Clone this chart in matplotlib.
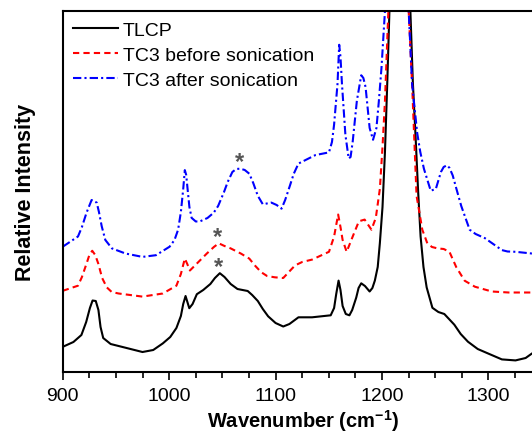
import matplotlib
matplotlib.use("Agg")
import matplotlib.pyplot as plt
from matplotlib.ticker import MultipleLocator, NullLocator

plt.rcParams['font.family'] = ['Liberation Sans', 'DejaVu Sans']
plt.rcParams['mathtext.fontset'] = 'custom'
plt.rcParams['mathtext.rm'] = 'Liberation Sans:bold'
plt.rcParams['mathtext.bf'] = 'Liberation Sans:bold'

# Raman spectra, wavenumber (cm-1) vs relative intensity (arb. units)
tlcp_x = [900, 910, 917.5, 922, 925.5, 928, 931, 933.5, 935.5, 938, 945, 960,
          974.9, 985, 994, 1001, 1006.8,
          1011, 1013.2, 1015.4, 1018.9, 1022, 1026, 1032, 1038.7, 1043, 1047.6,
          1052, 1057.8, 1064.2, 1069, 1073.8, 1078,
          1083.3, 1088, 1093, 1100, 1107.2, 1113, 1121.5, 1134.3, 1151.8, 1155,
          1157, 1159.2, 1161, 1163, 1166, 1169.4, 1172, 1175.8, 1178, 1180.5,
          1184, 1188.4, 1191, 1193.3, 1196, 1198, 1200.5, 1202.8, 1205, 1207, 1216,
          1226.7, 1229, 1231.5, 1234, 1236.3, 1239, 1242, 1247.4, 1253, 1258.6,
          1263, 1268, 1274, 1280.8, 1290, 1300, 1312.7, 1325.5, 1335, 1340.8, 1350]
tlcp_y = [25.2, 30, 37, 50, 64, 71.5, 71, 62, 45, 34, 28, 24,
          20, 22, 28.6, 35, 44,
          56, 68, 76, 63.8, 68, 77.8, 82, 88, 94, 98.8,
          95, 88, 83, 82, 81, 77,
          71, 63, 55.7, 49, 45.5, 48, 54.7, 54.7, 56.7, 64,
          78, 91.4, 82, 66, 58, 56.7, 62, 74.4, 84, 88.7,
          86, 80.5, 84, 91.4, 105, 128.7, 165, 220, 290, 361, 700,
          361, 290, 237, 180, 135.5, 105, 84.6, 64.2, 60, 58,
          53, 47.3, 38, 30.3, 23, 18.4, 12.6, 11.6, 14, 18.4, 24]

before_x = [900, 914.3, 918, 922.3, 925, 927.7, 930.5, 933.4, 937, 941.4, 946,
            952.5, 974.9, 994, 1006.8, 1011,
            1014.7, 1017, 1019.5, 1024.3, 1035.4, 1042, 1046.6, 1052, 1057.8,
            1067.3, 1075.3, 1081,
            1086.5, 1092, 1099.2, 1107.2, 1118.3, 1125, 1134.3, 1150.2, 1155,
            1158.8, 1161, 1163, 1166.8, 1172.5, 1178.3, 1183.7, 1190.1, 1194.2,
            1198, 1200.5, 1202.8, 1206, 1216, 1225.1, 1228.3, 1232.5, 1237.9,
            1242.6, 1247, 1252.2, 1258, 1263.4, 1269.8, 1277.7, 1287.3, 1303.2,
            1319.1, 1340.8, 1350]
before_y = [81.2, 86.3, 95, 108.3, 117, 121.2, 117, 108.3, 94, 84.6, 80,
            78.5, 75.4, 78.5, 86.3, 98,
            113.4, 108, 101.5, 106.6, 118.5, 125, 128.7, 126, 123.6,
            118.5, 113.4, 106,
            99.8, 96, 94.7, 94, 106.6, 110, 112.4, 120.2, 135.5,
            157.5, 145, 132.1, 120.2, 135.5, 150.7, 152.4, 142.3, 154.1,
            183, 225, 271, 361, 700, 361, 288, 176.2, 142.3,
            128.7, 125, 123.6, 123, 120.2, 104.9, 91.3, 85.3, 80.5,
            79.5, 79.5, 79.5]

after_x = [900, 914.3, 918, 922.3, 927.1, 931.9, 934, 936.6, 940, 946.2, 958.9,
           974.9, 987.6, 1000.4, 1005, 1008.4, 1011, 1013.2, 1014.7, 1016,
           1017.3, 1019, 1021.1, 1025, 1029.1, 1036, 1041.8, 1046,
           1051.4, 1055, 1059.4, 1063, 1066.7, 1071, 1075.3, 1079, 1083.3, 1088,
           1096, 1101, 1105.6, 1109, 1113.5, 1117,
           1121.5, 1137.4, 1150.2, 1153, 1155, 1158.2, 1159.8, 1161, 1162.4,
           1165.6, 1168.7, 1170.5, 1172.5, 1176.4, 1180.5, 1182.5, 1184.6,
           1188.4, 1191.6, 1194.8, 1197, 1199.6, 1202.8, 1216, 1225.1, 1228.3,
           1233.1, 1236, 1239.4, 1245.8, 1250.6, 1255.4, 1258,
           1261.1, 1263.5, 1266.5, 1270, 1274.5, 1282.4, 1288, 1296.8, 1312.7,
           1318, 1325.5, 1340.8, 1350]
after_y = [125.3, 135.5, 145, 159.2, 172, 169.4, 160, 145.7, 132, 123.6, 118.5,
           115.1, 116.8, 125.3, 132, 142.3, 160, 183, 201.9, 197,
           183, 165, 154.1, 150.5, 150.7, 154, 159.2, 166,
           179.6, 190, 200, 203, 203.3, 202, 198.3, 189, 176.2, 167.7,
           169.4, 167, 163.3, 172, 186.4, 198,
           208.4, 216.9, 219.6, 230, 247.4, 288, 327.2, 315, 288,
           237.3, 213.5, 215, 230.5, 271.2, 296.7, 294, 284.8,
           244, 232.2, 244, 270, 305, 361, 700, 361, 288,
           239, 220, 203.3, 181.3, 183, 200, 205,
           206.7, 204, 196.5, 183, 166, 142.3, 138, 133.8, 121.9,
           120.5, 120.2, 118.5, 118.5]

# marked bands (*)
star_x = [1066.5, 1045.5, 1046]
star_y = [210, 135, 105]

fig = plt.figure(figsize=(5.32, 4.35), dpi=100)
ax = fig.add_axes([0.118, 0.1425, 0.902, 0.83])

ax.plot(tlcp_x, tlcp_y, color='black', lw=1.5, label='TLCP')
ax.plot(before_x, before_y, color='red', lw=1.5, linestyle=(0, (3, 2)),
        label='TC3 before sonication')
ax.plot(after_x, after_y, color='blue', lw=1.5, linestyle=(0, (4, 1.5, 1, 1.5)),
        label='TC3 after sonication')

for sx, sy in zip(star_x, star_y):
    ax.text(sx, sy, '*', color='#555555', fontsize=17, fontweight='bold',
            ha='center', va='center')

ax.set_xlim(900, 1351)
ax.set_ylim(0, 361)
ax.xaxis.set_major_locator(MultipleLocator(100))
ax.xaxis.set_minor_locator(MultipleLocator(25))
ax.yaxis.set_major_locator(NullLocator())
ax.tick_params(axis='x', which='major', direction='out', length=6, width=1.2,
               labelsize=14, pad=5)
ax.tick_params(axis='x', which='minor', direction='out', length=4, width=1.2)
for side in ['left', 'bottom', 'top', 'right']:
    ax.spines[side].set_linewidth(1.5)

ax.set_xlabel(r'Wavenumber (cm$^{-1}$)', fontsize=14.5, fontweight='bold', labelpad=2)
ax.set_ylabel('Relative Intensity', fontsize=15.5, fontweight='bold', labelpad=19)

ax.legend(loc='upper left', frameon=False, fontsize=14, handlelength=2.3,
          handletextpad=0.25, labelspacing=0.38, borderaxespad=0.15,
          bbox_to_anchor=(0.0, 1.0))

fig.savefig('out.png', dpi=100)
